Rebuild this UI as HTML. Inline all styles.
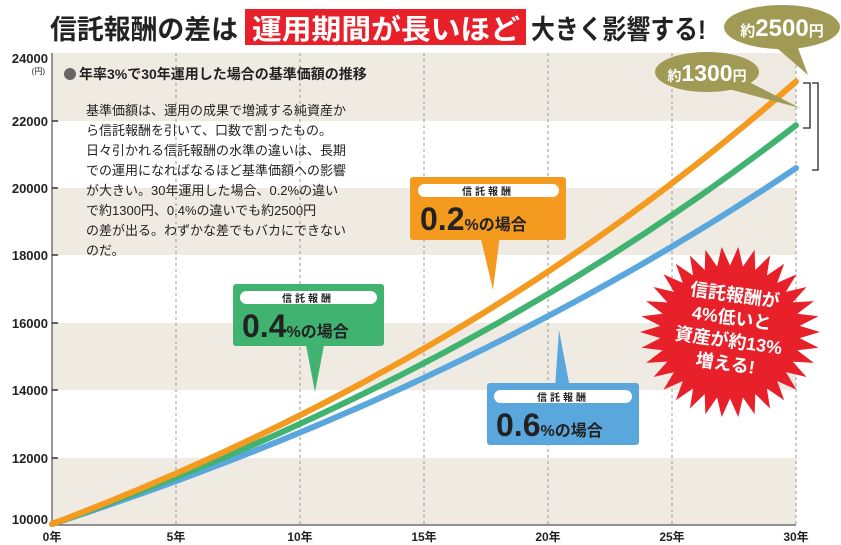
<!DOCTYPE html>
<html><head><meta charset="utf-8"><style>
body{margin:0;background:#fff;}
svg{display:block;font-family:"Liberation Sans","Noto Sans CJK JP",sans-serif;}
</style></head><body>
<svg id="s" width="841" height="545" viewBox="0 0 841 545" xmlns="http://www.w3.org/2000/svg">
<rect width="841" height="545" fill="#fff"/>
<g fill="#efebe2">
<rect x="52" y="53" width="744" height="68"/>
<rect x="52" y="188" width="744" height="67"/>
<rect x="52" y="323" width="744" height="67"/>
<rect x="52" y="458" width="744" height="67"/>
</g>
<g stroke="#999" stroke-dasharray="3,3" stroke-width="1">
<line x1="176" y1="53" x2="176" y2="525"/><line x1="300" y1="53" x2="300" y2="525"/>
<line x1="424" y1="53" x2="424" y2="525"/><line x1="548" y1="53" x2="548" y2="525"/>
<line x1="672" y1="53" x2="672" y2="525"/><line x1="796" y1="53" x2="796" y2="525"/>
</g>
<line x1="52" y1="53" x2="52" y2="526" stroke="#555" stroke-width="1.2"/>
<line x1="52" y1="525" x2="796" y2="525" stroke="#555" stroke-width="1.2"/>
<g stroke="#333" stroke-width="1.5">
<line x1="52" y1="121" x2="58" y2="121"/><line x1="52" y1="188" x2="58" y2="188"/>
<line x1="52" y1="255" x2="58" y2="255"/><line x1="52" y1="323" x2="58" y2="323"/>
<line x1="52" y1="390" x2="58" y2="390"/><line x1="52" y1="458" x2="58" y2="458"/>
</g>
<g font-size="13" font-weight="bold" fill="#222" text-anchor="end">
<text x="48" y="63">24000</text><text x="48" y="126">22000</text>
<text x="48" y="193">20000</text><text x="48" y="260">18000</text>
<text x="48" y="328">16000</text><text x="48" y="395">14000</text>
<text x="48" y="463">12000</text><text x="48" y="524">10000</text>
</g>
<text x="45" y="74" font-size="8" text-anchor="end" fill="#222">(円)</text>
<g font-size="12" font-weight="bold" fill="#222" text-anchor="middle">
<text x="52" y="541">0年</text><text x="176" y="541">5年</text><text x="300" y="541">10年</text>
<text x="424" y="541">15年</text><text x="548" y="541">20年</text><text x="672" y="541">25年</text><text x="796" y="541">30年</text>
</g>
<!-- title -->
<text x="50" y="39" font-size="27" font-weight="bold" fill="#222" textLength="188" lengthAdjust="spacingAndGlyphs">信託報酬の差は</text>
<rect x="245" y="9" width="281" height="36" fill="#e8202a"/>
<text x="252" y="39" font-size="28" font-weight="bold" fill="#fff" textLength="268" lengthAdjust="spacingAndGlyphs">運用期間が長いほど</text>
<text x="531" y="39" font-size="27" font-weight="bold" fill="#222" textLength="175" lengthAdjust="spacingAndGlyphs">大きく影響する!</text>
<!-- info -->
<circle cx="70" cy="74" r="6" fill="#666"/>
<text x="79" y="79" font-size="14" font-weight="bold" fill="#222">年率3%で30年運用した場合の基準価額の推移</text>
<g font-size="13" fill="#222">
<text x="86" y="115">基準価額は、運用の成果で増減する純資産か</text>
<text x="86" y="135">ら信託報酬を引いて、口数で割ったもの。</text>
<text x="86" y="155">日々引かれる信託報酬の水準の違いは、長期</text>
<text x="86" y="175">での運用になればなるほど基準価額への影響</text>
<text x="86" y="195">が大きい。30年運用した場合、0.2%の違い</text>
<text x="86" y="215">で約1300円、0.4%の違いでも約2500円</text>
<text x="86" y="235">の差が出る。わずかな差でもバカにできない</text>
<text x="86" y="255">のだ。</text>
</g>
<g id="lines" fill="none" stroke-width="6" stroke-linecap="round"></g>
<path d="M803 83 H810 V128 H803" fill="none" stroke="#222" stroke-width="1.3"/>
<path d="M812 83 H818 V170 H812" fill="none" stroke="#222" stroke-width="1.3"/>
<path d="M795 40 L808 75 L770 42Z" fill="#a09a55"/>
<ellipse cx="782" cy="27" rx="58" ry="22" fill="#a09a55"/>
<text x="782" y="36" font-size="24" font-weight="bold" fill="#fff" text-anchor="middle"><tspan font-size="15">約</tspan>2500<tspan font-size="15">円</tspan></text>
<path d="M745 80 L800 108 L725 88Z" fill="#a09a55"/>
<ellipse cx="707" cy="72" rx="52" ry="20" fill="#a09a55"/>
<text x="707" y="81" font-size="23" font-weight="bold" fill="#fff" text-anchor="middle"><tspan font-size="14">約</tspan>1300<tspan font-size="14">円</tspan></text>
<path d="M480 235 L493 290 L500 235Z" fill="#f39a1f"/>
<rect x="410" y="177" width="156" height="63" rx="3" fill="#f39a1f"/>
<rect x="418" y="184" width="141" height="13" rx="6.5" fill="#fff"/>
<text x="488" y="195" font-size="10" font-weight="bold" text-anchor="middle" fill="#222" letter-spacing="3">信託報酬</text>
<text x="420" y="230" font-size="32" font-weight="bold" fill="#222">0.2<tspan font-size="16">%の場合</tspan></text>
<path d="M305 340 L315 392 L325 340Z" fill="#3fb36f"/>
<rect x="233" y="284" width="151" height="62" rx="3" fill="#3fb36f"/>
<rect x="240" y="291" width="137" height="13" rx="6.5" fill="#fff"/>
<text x="308" y="302" font-size="10" font-weight="bold" text-anchor="middle" fill="#222" letter-spacing="3">信託報酬</text>
<text x="242" y="337" font-size="32" font-weight="bold" fill="#222">0.4<tspan font-size="16">%の場合</tspan></text>
<path d="M555 388 L559 330 L570 388Z" fill="#5aa7dd"/>
<rect x="487" y="383" width="152" height="62" rx="3" fill="#5aa7dd"/>
<rect x="494" y="390" width="138" height="13" rx="6.5" fill="#fff"/>
<text x="563" y="401" font-size="10" font-weight="bold" text-anchor="middle" fill="#222" letter-spacing="3">信託報酬</text>
<text x="496" y="436" font-size="32" font-weight="bold" fill="#222">0.6<tspan font-size="16">%の場合</tspan></text>
<polygon id="burst" fill="#e8202a"/>
<g transform="rotate(8 730 330)" font-size="18" font-weight="bold" fill="#fff" text-anchor="middle">
<text x="730" y="301">信託報酬が</text>
<text x="730" y="324">4%低いと</text>
<text x="730" y="347">資産が約13%</text>
<text x="730" y="370">増える!</text>
</g>
</svg>
<script>
(function(){
var ns="http://www.w3.org/2000/svg",g=document.getElementById("lines");
function y(v){return 525-(v-10000)/2000*67.4;}
[["#5aa7dd",20560],["#3fb36f",21830],["#f39a1f",23130]].forEach(function(c){
var r=Math.pow(c[1]/10000,1/30),d="";
for(var t=0;t<=30;t+=0.5){var x=52+t*24.8,v=10000*Math.pow(r,t);d+=(t?"L":"M")+x.toFixed(1)+" "+(y(v)-1).toFixed(1);}
var p=document.createElementNS(ns,"path");p.setAttribute("d",d);p.setAttribute("stroke",c[0]);g.appendChild(p);});
var pts=[],n=34;for(var i=0;i<2*n;i++){var a=i*Math.PI/n,r=i%2?70:90;pts.push((730+r*Math.cos(a)).toFixed(1)+","+(332+r*Math.sin(a)*0.95).toFixed(1));}
document.getElementById("burst").setAttribute("points",pts.join(" "));
})();
</script>
</body></html>
